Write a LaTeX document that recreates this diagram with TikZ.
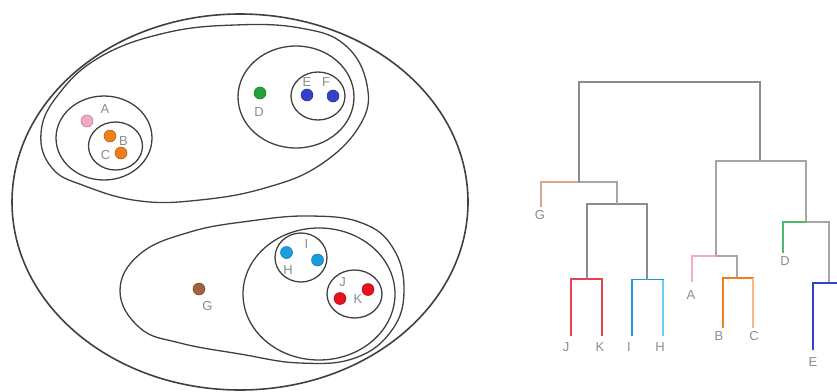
\documentclass[tikz,border=0pt]{standalone}
\usepackage{fontspec}
\setmainfont{Liberation Sans}
\usepackage{tikz}
\usetikzlibrary{positioning}

\definecolor{ringgray}{HTML}{404040}
\definecolor{lblgray}{HTML}{8C8C8C}
\definecolor{cpink}{HTML}{F5A9C6}
\definecolor{corange}{HTML}{F07F1A}
\definecolor{clorange}{HTML}{F8B98A}
\definecolor{cgreen}{HTML}{22A33A}
\definecolor{clgreen}{HTML}{4CBB6C}
\definecolor{cblue}{HTML}{3340CC}
\definecolor{ccyan}{HTML}{1A9DE0}
\definecolor{clcyan}{HTML}{6CCDF2}
\definecolor{cred}{HTML}{E8101A}
\definecolor{clred}{HTML}{E8414F}
\definecolor{cbrown}{HTML}{A0633F}
\definecolor{ctan}{HTML}{D8A88C}
\definecolor{cgray}{HTML}{A6A6A6}
\definecolor{croot}{HTML}{8C8C8C}

\begin{document}
\begin{tikzpicture}[
    x=1pt, y=-1pt,
    ring/.style={draw=ringgray, line width=1.3pt},
    dot/.style={circle, inner sep=0pt, minimum size=12pt, fill=#1, draw=#1!70!black, line width=0.5pt},
    lbl/.style={text=lblgray, font=\fontsize{13}{15}\selectfont, inner sep=1pt},
    link/.style={line width=1.4pt, draw=#1}
]
    \useasboundingbox (0,0) rectangle (837,391);

    % Outer cluster
    \draw[ring, line width=1.6pt] (240,202) ellipse [x radius=228, y radius=188];

    % Upper cluster: A, B, C with D, E, F
    \draw[ring] plot[smooth cycle, tension=0.7] coordinates {(41,133) (58,95) (100,57) (165,33) (235,25) (300,28) (345,45) (367,85) (360,125) (320,165) (265,188) (200,200) (140,201) (85,186) (52,168)};
    \draw[ring] (104,138) ellipse [x radius=48, y radius=42];
    \draw[ring] (115.5,146) ellipse [x radius=27, y radius=24];
    \draw[ring] (296,97) ellipse [x radius=58, y radius=51];
    \draw[ring] (318,96) ellipse [x radius=27, y radius=24];

    % Lower cluster: G with H, I, J, K
    \draw[ring] plot[smooth cycle, tension=0.7] coordinates {(120,291) (140,254) (190,232) (250,221) (310,216) (362,223) (393,248) (404,290) (392,330) (355,358) (300,363) (240,354) (180,343) (140,328)};
    \draw[ring] (319,294) ellipse [x radius=76, y radius=66];
    \draw[ring] (301,257.5) ellipse [x radius=26, y radius=24.5];
    \draw[ring] (354.5,294) ellipse [x radius=27.5, y radius=24];

    % Points
    \node[dot=cpink] (dA) at (87,121) {};
    \node[dot=corange] (dB) at (110,136) {};
    \node[dot=corange] (dC) at (121,153) {};
    \node[dot=cgreen] (dD) at (260,93) {};
    \node[dot=cblue] (dE) at (307,95) {};
    \node[dot=cblue] (dF) at (333,96) {};
    \node[dot=cbrown] (dG) at (199,289) {};
    \node[dot=ccyan] (dH) at (286.5,252.5) {};
    \node[dot=ccyan] (dI) at (317.5,260) {};
    \node[dot=cred] (dJ) at (340,298.5) {};
    \node[dot=cred] (dK) at (368,289.5) {};

    \node[lbl] (tA) at (105,109) {A};
    \node[lbl] (tB) at (123.5,141) {B};
    \node[lbl] (tC) at (105.5,155) {C};
    \node[lbl] (tD) at (259,112) {D};
    \node[lbl] (tE) at (307,82) {E};
    \node[lbl] (tF) at (326,82) {F};
    \node[lbl] (tG) at (207.5,306.5) {G};
    \node[lbl] (tH) at (288,270) {H};
    \node[lbl] (tI) at (306.5,244) {I};
    \node[lbl] (tJ) at (342.5,282) {J};
    \node[lbl] (tK) at (358,299.5) {K};

    % Dendrogram: leaves and merges
    \coordinate (g) at (541,207);
    \coordinate (j) at (571,336);
    \coordinate (k) at (602,336);
    \coordinate (i) at (632,336);
    \coordinate (h) at (663,336);
    \coordinate (a) at (692,282);
    \coordinate (b) at (723,328);
    \coordinate (c) at (753,328);
    \coordinate (d) at (783,253);
    \coordinate (e) at (813,350);
    \coordinate (fcut) at (840,283);

    \coordinate (jk) at (587,279);
    \coordinate (ih) at (647,279.5);
    \coordinate (hijk) at (617,204);
    \coordinate (ghijk) at (579,182);
    \coordinate (bc) at (737,278);
    \coordinate (abc) at (716,256);
    \coordinate (ef) at (829,283);
    \coordinate (def) at (806,222);
    \coordinate (abcdef) at (760,161);
    \coordinate (top) at (669,82);

    \draw[link=clred] (j) |- (jk) -| (k);
    \draw[link=ccyan] (i) |- (ih) -| (h);
    \draw[link=clcyan] (h) -- (h |- ih);
    \draw[link=croot] (jk) |- (hijk) -| (ih);
    \draw[link=ctan] (g) |- (ghijk);
    \draw[link=cgray] (ghijk) -| (hijk);
    \draw[link=croot, line width=2pt] (ghijk) |- (top) -| (abcdef);
    \draw[link=cgray] (abc) |- (abcdef) -| (def);
    \draw[link=cpink] (a) |- (abc);
    \draw[link=cgray] (abc) -| (bc);
    \draw[link=corange] (b) |- (bc) -| (c);
    \draw[link=clorange] (c) -- (c |- bc);
    \draw[link=clgreen] (d) |- (def);
    \draw[link=cgray] (def) -| (ef);
    \draw[link=cblue] (e) |- (fcut);

    \node[lbl] (lG) at (540,215) {G};
    \node[lbl] (lJ) at (566,347) {J};
    \node[lbl] (lK) at (600,347) {K};
    \node[lbl] (lI) at (629,347) {I};
    \node[lbl] (lH) at (660,347) {H};
    \node[lbl] (lA) at (691,295) {A};
    \node[lbl] (lB) at (719,336) {B};
    \node[lbl] (lC) at (754,336) {C};
    \node[lbl] (lD) at (785,261) {D};
    \node[lbl] (lE) at (813,362) {E};

\end{tikzpicture}
\end{document}
